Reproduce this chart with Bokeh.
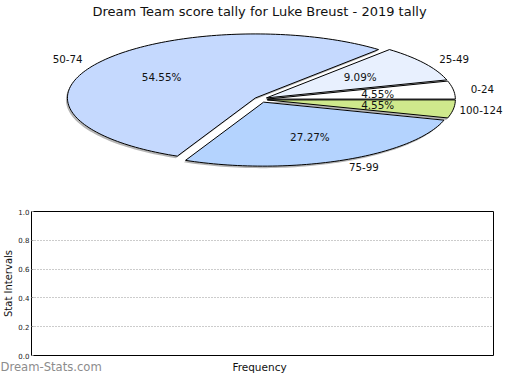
import math
from bokeh.plotting import figure
from bokeh.layouts import column
from bokeh.models import Range1d, FixedTicker, ColumnDataSource, NumeralTickFormatter
from bokeh.core.properties import value
from bokeh.embed import file_html
from bokeh.resources import INLINE

# ---------------- data ----------------
title_text = "Dream Team score tally for Luke Breust - 2019 tally"
slice_labels = ["0-24", "25-49", "50-74", "75-99", "100-124"]
slice_counts = [1, 2, 12, 6, 1]
slice_colors = ["#ffffff", "#e8f0fe", "#c5d9fe", "#b4d3fe", "#cfe98c"]

y_ticks = [0.0, 0.2, 0.4, 0.6, 0.8, 1.0]
x_axis_title = "Frequency"
y_axis_title = "Stat Intervals"
watermark = "Dream-Stats.com"

# ---------------- layout / style ----------------
FONT = "DejaVu Sans"
W = 504
H1 = 186
H2 = 173
H3 = 15
CX, CY = 260.4, 99.0      # pie centre (px)
RX, RY = 188.0, 64.0      # ellipse radii
EX, EY = 6.5, 2.9         # explode distance
LRX, LRY = 212.0, 74.0    # outer label radii
PRX, PRY = 111.5, 38.5    # percentage label radii
LAB_SIZE = 10.3

p1 = figure(width=W, height=H1, x_range=Range1d(0, W), y_range=Range1d(H1, 0),
            x_axis_type=None, y_axis_type=None, toolbar_location=None,
            output_backend="svg", min_border=0, outline_line_color=None)
p1.frame_align = False

total = float(sum(slice_counts))
xs, ys, sxs, sys_ = [], [], [], []
lab_x, lab_y, lab_align = [], [], []
pct_x, pct_y, pct_text = [], [], []
a = 0.0
for cnt, lab in zip(slice_counts, slice_labels):
    frac = cnt / total
    a0, a1 = a, a + frac * 2 * math.pi
    mid = (a0 + a1) / 2
    ox, oy = EX * math.cos(mid), -EY * math.sin(mid)
    n = max(int(frac * 240), 6)
    px = [CX + ox]
    py = [CY + oy]
    for k in range(n + 1):
        t = a0 + (a1 - a0) * k / n
        px.append(CX + ox + RX * math.cos(t))
        py.append(CY + oy - RY * math.sin(t))
    xs.append(px)
    ys.append(py)
    sxs.append([v - 1.5 for v in px])
    sys_.append([v + 2.0 for v in py])
    c = math.cos(mid)
    lx = CX + LRX * c
    if c >= 0:
        est_w = len(lab) * 0.62 * LAB_SIZE
        if lx + est_w > W - 2:
            lab_x.append(W - 2)
            lab_align.append("right")
        else:
            lab_x.append(lx)
            lab_align.append("left")
    else:
        lab_x.append(lx)
        lab_align.append("right")
    lab_y.append(CY - LRY * math.sin(mid))
    pct_x.append(CX + ox + PRX * c)
    pct_y.append(CY + oy - PRY * math.sin(mid))
    pct_text.append("%.2f%%" % (frac * 100))
    a = a1

p1.patches(sxs, sys_, fill_color="#7a7a7a", fill_alpha=0.55, line_color=None)
pie_src = ColumnDataSource(dict(xs=xs, ys=ys, color=slice_colors))
p1.patches("xs", "ys", source=pie_src, fill_color="color", line_color="black", line_width=1)

lab_src = ColumnDataSource(dict(x=lab_x, y=lab_y, text=slice_labels, align=lab_align))
p1.text("x", "y", text="text", source=lab_src, text_align="align", text_baseline="middle",
        text_font=value(FONT), text_font_size="%.1fpx" % LAB_SIZE, text_color="#111111")

pct_src = ColumnDataSource(dict(x=pct_x, y=pct_y, text=pct_text))
p1.text("x", "y", text="text", source=pct_src, text_align="center", text_baseline="middle",
        text_font=value(FONT), text_font_size="10.4px", text_color="#111111")

p1.text(x=[259], y=[10.5], text=[title_text], text_align="center", text_baseline="middle",
        text_font=value(FONT), text_font_size="13px", text_color="#111111")

# ---------------- empty bar chart ----------------
p2 = figure(width=W, height=H2, x_range=Range1d(0, 1), y_range=Range1d(0, 1),
            x_axis_type=None, toolbar_location=None, output_backend="svg",
            min_border_left=25, min_border_right=11, min_border_top=25, min_border_bottom=4)
p2.frame_align = False
p2.outline_line_color = "black"
p2.outline_line_alpha = 1.0
p2.outline_line_width = 1

p2.yaxis.ticker = FixedTicker(ticks=y_ticks)
p2.yaxis.formatter = NumeralTickFormatter(format="0.0")
p2.yaxis.major_label_text_font = FONT
p2.yaxis.major_label_text_font_size = "7px"
p2.yaxis.major_label_text_color = "#222222"
p2.yaxis.major_label_standoff = 2
p2.yaxis.major_tick_out = 0
p2.yaxis.major_tick_in = 2
p2.yaxis.major_tick_line_color = "#999999"
p2.yaxis.minor_tick_line_color = None
p2.yaxis.axis_line_color = "black"
p2.yaxis.axis_label = y_axis_title
p2.yaxis.axis_label_text_font = FONT
p2.yaxis.axis_label_text_font_style = "normal"
p2.yaxis.axis_label_text_font_size = "10px"
p2.yaxis.axis_label_text_color = "#111111"
p2.yaxis.axis_label_standoff = 1

p2.xgrid.visible = False
p2.ygrid.grid_line_color = "#999999"
p2.ygrid.grid_line_dash = "1 2"
p2.ygrid.grid_line_width = 1

# ---------------- bottom strip: axis title + watermark ----------------
p3 = figure(width=W, height=H3, x_range=Range1d(0, W), y_range=Range1d(H3, 0),
            x_axis_type=None, y_axis_type=None, toolbar_location=None,
            output_backend="svg", min_border=0, outline_line_color=None)
p3.frame_align = False
p3.text(x=[0], y=[7.5], text=[watermark], text_align="left", text_baseline="middle",
        text_font=value(FONT), text_font_size="11.6px", text_color="#8c8c8c")
p3.text(x=[259], y=[7.5], text=[x_axis_title], text_align="center", text_baseline="middle",
        text_font=value(FONT), text_font_size="10.5px", text_color="#111111")

layout = column(p1, p2, p3)
open("out.html", "w").write(file_html(layout, INLINE))
